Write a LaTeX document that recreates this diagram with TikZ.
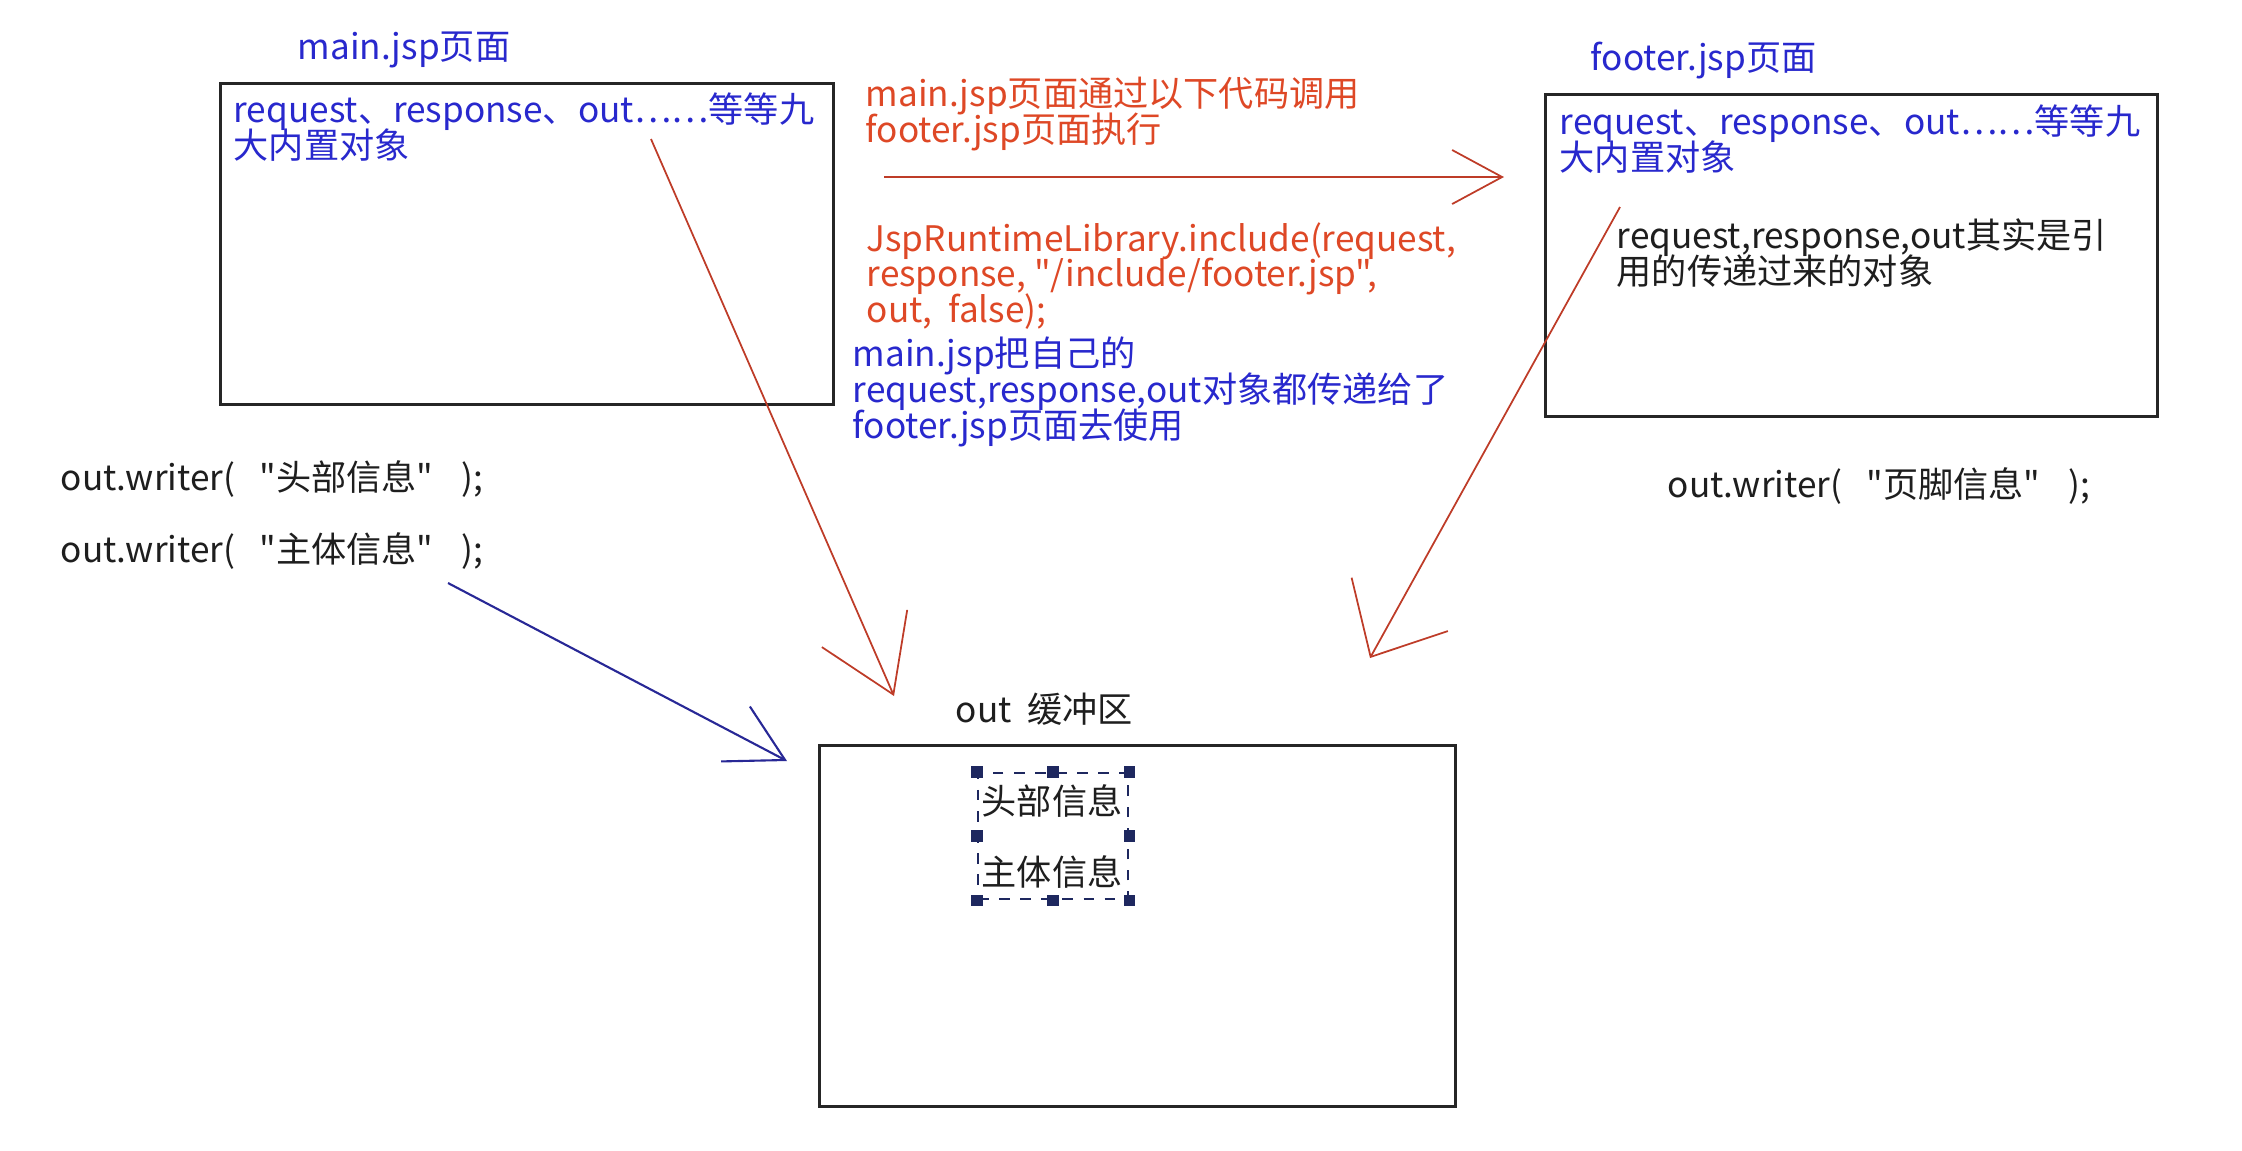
\documentclass[tikz,border=0pt]{standalone}
\usepackage{fontspec}
\setmainfont{Noto Sans CJK SC}[Ligatures=TeXOff]
\usetikzlibrary{arrows.meta}

\definecolor{jspblue}{RGB}{40,40,205}
\definecolor{jspred}{RGB}{222,72,38}
\definecolor{linered}{RGB}{190,60,40}
\definecolor{lineblue}{RGB}{40,40,150}
\definecolor{selnavy}{RGB}{30,40,95}
\definecolor{inkblack}{RGB}{30,30,30}

\newcommand{\jspfont}{\fontsize{10}{10.2}\selectfont\setlength{\lineskiplimit}{-10pt}\setlength{\lineskip}{0pt}}
\newcommand{\writecall}[1]{out.writer(\hspace{0.7em}"#1"\hspace{0.8em});}

\tikzset{
  pagebox/.style={draw=black!85, line width=0.8pt, anchor=north west},
  bluetxt/.style={text=jspblue, anchor=west, align=left},
  redtxt/.style={text=jspred, anchor=west, align=left},
  blktxt/.style={text=inkblack, anchor=west, align=left},
  redline/.style={draw=linered, line width=0.5pt},
  blueline/.style={draw=lineblue, line width=0.6pt},
  selbox/.style={draw=selnavy, dashed, line width=0.6pt, anchor=north west}
}

\begin{document}
\begin{tikzpicture}[x=0.01cm, y=-0.01cm,
  every node/.style={inner sep=0pt, font=\jspfont}]

  \useasboundingbox (0,0) rectangle (2242,1150);

  % --- main.jsp page ---
  \node[bluetxt] (mainlbl) at (297,50) {main.jsp页面};
  \node[pagebox, minimum width=6.13cm, minimum height=3.21cm] (mainpage) at (219,82) {};
  \node[bluetxt] (mainobj) at (233,127) {request、response、out……等等九\\大内置对象};

  % --- include call ---
  \node[redtxt] (calltxt) at (865,114) {main.jsp页面通过以下代码调用\\footer.jsp页面执行};
  \node[redtxt] (codetxt) at (866,276) {JspRuntimeLibrary.include(request,\\response, "/include/footer.jsp",\\out,\ \ false);};
  \node[bluetxt] (passtxt) at (852,392) {main.jsp把自己的\\request,response,out对象都传递给了\\footer.jsp页面去使用};

  % --- footer.jsp page ---
  \node[bluetxt] (footerlbl) at (1590,61) {footer.jsp页面};
  \node[pagebox, minimum width=6.12cm, minimum height=3.22cm] (footerpage) at (1544,93) {};
  \node[bluetxt] (footerobj) at (1559,139) {request、response、out……等等九\\大内置对象};
  \node[blktxt] (reftxt) at (1616,253) {request,response,out其实是引\\用的传递过来的对象};
  \node[blktxt] (footwrite) at (1667,486) {\writecall{页脚信息}};

  % --- writes from main.jsp ---
  \node[blktxt] (headwrite) at (60,479) {\writecall{头部信息}};
  \node[blktxt] (bodywrite) at (60,551) {\writecall{主体信息}};

  % --- out buffer ---
  \node[blktxt] (buflbl) at (955,709) {out\ \ 缓冲区};
  \node[pagebox, minimum width=6.36cm, minimum height=3.61cm] (outbuf) at (818,744) {};
  \node[selbox, minimum width=1.5cm, minimum height=1.26cm] (sel) at (977,772) {};
  \foreach \a in {north west,north,north east,east,south east,south,south west,west}
    \fill[selnavy] (sel.\a) ++(-1.6pt,-1.6pt) rectangle ++(3.2pt,3.2pt);
  \node[blktxt] (headinfo) at (981,801) {头部信息};
  \node[blktxt] (bodyinfo) at (981,872) {主体信息};

  % --- arrows ---
  \coordinate (callfrom) at (884,177);
  \coordinate (callto) at (1504,177);
  \coordinate (mainref) at (651,139);
  \coordinate (maintip) at (894,696);
  \coordinate (footref) at (1620,207);
  \coordinate (foottip) at (1370,658);
  \coordinate (bodyref) at (448,583);
  \coordinate (bodytip) at (787,761);

  \draw[redline, -{Straight Barb[length=0.5cm, width=0.54cm]}] (callfrom) -- (callto);
  \draw[redline, -{Straight Barb[length=0.72cm, width=0.93cm]}] (mainref) -- (maintip);
  \draw[redline, -{Straight Barb[length=0.6cm, width=1.1cm]}] (footref) -- (foottip);
  \draw[blueline, -{Straight Barb[length=0.56cm, width=0.62cm]}] (bodyref) -- (bodytip);

\end{tikzpicture}
\end{document}
